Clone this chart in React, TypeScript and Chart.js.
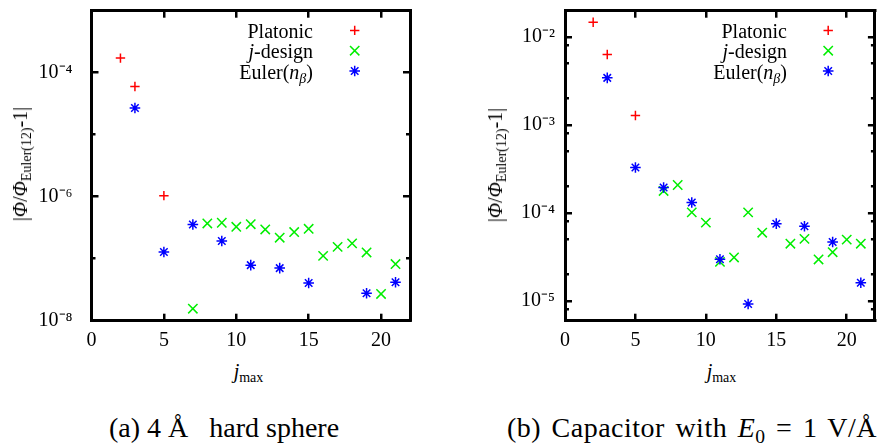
import React, { useEffect, useRef } from "react";
import { Chart, registerables } from "chart.js";

Chart.register(...registerables);

const FONT = '"Liberation Serif", "Times New Roman", serif';

// ---------- Panel (a): 4 Å hard sphere ----------
const jPlatonicA = [2, 3, 5];
const valPlatonicA = [1.72e-4, 6.0e-5, 1.04e-6];
const jDesignA = [7, 8, 9, 10, 11, 12, 13, 14, 15, 16, 17, 18, 19, 20, 21];
const valDesignA = [1.56e-8, 3.7e-7, 3.8e-7, 3.27e-7, 3.6e-7, 2.96e-7, 2.18e-7, 2.69e-7, 3.04e-7, 1.11e-7, 1.55e-7, 1.77e-7, 1.26e-7, 2.7e-8, 8.2e-8];
const jEulerA = [3, 5, 7, 9, 11, 13, 15, 19, 21];
const valEulerA = [2.7e-5, 1.28e-7, 3.56e-7, 1.93e-7, 7.87e-8, 7.05e-8, 4.06e-8, 2.77e-8, 4.16e-8];

// ---------- Panel (b): capacitor ----------
const jPlatonicB = [2, 3, 5];
const valPlatonicB = [1.48e-2, 6.36e-3, 1.29e-3];
const jDesignB = [7, 8, 9, 10, 11, 12, 13, 14, 16, 17, 18, 19, 20, 21];
const valDesignB = [1.79e-4, 2.09e-4, 1.02e-4, 7.8e-5, 2.8e-5, 3.14e-5, 1.02e-4, 6.0e-5, 4.5e-5, 5.1e-5, 2.98e-5, 3.6e-5, 5.0e-5, 4.5e-5];
const jEulerB = [3, 5, 7, 9, 11, 13, 15, 17, 19, 21];
const valEulerB = [3.45e-3, 3.3e-4, 1.96e-4, 1.32e-4, 3.0e-5, 9.3e-6, 7.6e-5, 7.1e-5, 4.7e-5, 1.62e-5];

// ---------- Axes ----------
const xMin = 0;
const xMax = 22;
const xTickValues = [0, 5, 10, 15, 20];

const yRangeA = [1e-8, 1e-3];
const yLabeledA = [1e-8, 1e-6, 1e-4];
const yMinorA = [1e-7, 1e-5];

const yRangeB = [6e-6, 2e-2];
const yLabeledB = [1e-5, 1e-4, 1e-3, 1e-2];
const yMinorB = [8e-6, 2e-5, 5e-5, 8e-5, 2e-4, 5e-4, 8e-4, 2e-3, 5e-3, 8e-3];

const seriesNames = ["Platonic", "j-design", "Euler(nβ)"];

const STYLES = [
  { pointStyle: "cross", color: "#ff0000", radius: 4.7, order: 2 },
  { pointStyle: "crossRot", color: "#00ee00", radius: 6.6, order: 1 },
  { pointStyle: "star", color: "#0000ff", radius: 5.3, order: 0 },
];

const AXIS_COLOR = "#000000";

const SUP: Record<string, string> = {
  "-": "⁻", "0": "⁰", "1": "¹", "2": "²", "3": "³", "4": "⁴",
  "5": "⁵", "6": "⁶", "7": "⁷", "8": "⁸", "9": "⁹",
};
const powLabel = (v: number) =>
  "10" + String(Math.round(Math.log10(v))).split("").map((c) => SUP[c]).join("");

function drawMarker(ctx: CanvasRenderingContext2D, style: string, x: number, y: number, r: number) {
  ctx.beginPath();
  if (style === "cross" || style === "star") {
    ctx.moveTo(x - r, y);
    ctx.lineTo(x + r, y);
    ctx.moveTo(x, y - r);
    ctx.lineTo(x, y + r);
  }
  if (style === "crossRot" || style === "star") {
    const d = r * Math.SQRT1_2;
    ctx.moveTo(x - d, y - d);
    ctx.lineTo(x + d, y + d);
    ctx.moveTo(x + d, y - d);
    ctx.lineTo(x - d, y + d);
  }
  ctx.stroke();
}

interface PanelSpec {
  series: { j: number[]; v: number[] }[];
  yRange: number[];
  yLabeled: number[];
  yMinor: number[];
  yWidth: number;
  padRight: number;
  labelPad: number;
}

const legendMarkers = {
  id: "legendMarkers",
  afterDraw(chart: any) {
    const ctx: CanvasRenderingContext2D = chart.ctx;
    const a = chart.chartArea;
    ctx.save();
    ctx.lineWidth = 1.5;
    STYLES.forEach((s, i) => {
      ctx.strokeStyle = s.color;
      drawMarker(ctx, s.pointStyle, a.left + 263.2, a.top + 19.7 + 20.3 * i, s.radius);
    });
    ctx.restore();
  },
};

const BORDER = { display: true, color: AXIS_COLOR, width: 3 };
const tickGrid = (len: number) => ({
  display: true,
  drawOnChartArea: false,
  drawTicks: true,
  tickLength: -len,
  color: AXIS_COLOR,
  tickColor: AXIS_COLOR,
  lineWidth: 2.5,
  tickWidth: 2.5,
});
const LABEL_FONT = { family: FONT, size: 20 };

function Panel({ spec, left, width }: { spec: PanelSpec; left: number; width: number }) {
  const ref = useRef<HTMLCanvasElement>(null);
  useEffect(() => {
    const setTicks = (vals: number[]) => (s: any) => {
      s.ticks = vals.map((v) => ({ value: v }));
    };
    const fixSize = (w: number | null, h: number | null) => (s: any) => {
      if (w !== null) s.width = w;
      if (h !== null) s.height = h;
      s.paddingLeft = 0;
      s.paddingRight = 0;
      s.paddingTop = 0;
      s.paddingBottom = 0;
    };
    const yBase = {
      type: "logarithmic",
      min: spec.yRange[0],
      max: spec.yRange[1],
    };
    const xBase = { type: "linear", min: xMin, max: xMax };
    const chart = new Chart(ref.current as HTMLCanvasElement, {
      type: "scatter",
      data: {
        datasets: STYLES.map((s, i) => ({
          label: seriesNames[i],
          data: spec.series[i].j.map((x, k) => ({ x, y: spec.series[i].v[k] })),
          pointStyle: s.pointStyle as any,
          pointRadius: s.radius,
          pointHoverRadius: s.radius,
          borderColor: s.color,
          backgroundColor: s.color,
          pointBorderColor: s.color,
          pointBorderWidth: 1.5,
          borderWidth: 1.5,
          showLine: false,
          order: s.order,
          xAxisID: "x",
          yAxisID: "y",
        })),
      },
      options: {
        responsive: false,
        maintainAspectRatio: false,
        animation: false,
        events: [],
        layout: { padding: { left: 0, top: 10.7, right: spec.padRight, bottom: 0 } },
        plugins: { legend: { display: false }, tooltip: { enabled: false } },
        scales: {
          x: {
            ...xBase,
            position: "bottom",
            afterBuildTicks: setTicks(xTickValues),
            afterFit: fixSize(null, 360 - 320.7),
            ticks: { autoSkip: false, maxRotation: 0, padding: 15, color: "#000", font: LABEL_FONT },
            grid: tickGrid(7),
            border: BORDER,
          },
          xTop: {
            ...xBase,
            position: "top",
            afterBuildTicks: setTicks(xTickValues),
            afterFit: fixSize(null, 0),
            ticks: { display: false },
            grid: tickGrid(7),
            border: BORDER,
          },
          y: {
            ...yBase,
            position: "left",
            weight: 1,
            afterBuildTicks: setTicks(spec.yLabeled),
            afterFit: fixSize(spec.yWidth, null),
            ticks: {
              autoSkip: false,
              padding: spec.labelPad + 7,
              color: "#000",
              font: LABEL_FONT,
              callback: (v: any) => powLabel(Number(v)),
            },
            grid: tickGrid(7),
            border: BORDER,
          },
          yMinorL: {
            ...yBase,
            position: "left",
            weight: 0,
            afterBuildTicks: setTicks(spec.yMinor),
            afterFit: fixSize(0, null),
            ticks: { display: false },
            grid: tickGrid(4),
            border: { display: false },
          },
          yRight: {
            ...yBase,
            position: "right",
            weight: 1,
            afterBuildTicks: setTicks(spec.yLabeled),
            afterFit: fixSize(0, null),
            ticks: { display: false },
            grid: tickGrid(7),
            border: BORDER,
          },
          yMinorR: {
            ...yBase,
            position: "right",
            weight: 0,
            afterBuildTicks: setTicks(spec.yMinor),
            afterFit: fixSize(0, null),
            ticks: { display: false },
            grid: tickGrid(4),
            border: { display: false },
          },
        },
      } as any,
      plugins: [legendMarkers as any],
    });
    return () => chart.destroy();
  }, []);
  return (
    <canvas
      ref={ref}
      width={width}
      height={360}
      style={{ position: "absolute", left, top: 0, width, height: 360 }}
    />
  );
}

const specA: PanelSpec = {
  series: [
    { j: jPlatonicA, v: valPlatonicA },
    { j: jDesignA, v: valDesignA },
    { j: jEulerA, v: valEulerA },
  ],
  yRange: yRangeA,
  yLabeled: yLabeledA,
  yMinor: yMinorA,
  yWidth: 91.5,
  padRight: 30,
  labelPad: 19,
};

const specB: PanelSpec = {
  series: [
    { j: jPlatonicB, v: valPlatonicB },
    { j: jDesignB, v: valDesignB },
    { j: jEulerB, v: valEulerB },
  ],
  yRange: yRangeB,
  yLabeled: yLabeledB,
  yMinor: yMinorB,
  yWidth: 125,
  padRight: 3,
  labelPad: 10,
};

const subStyle: React.CSSProperties = { fontSize: "0.7em", verticalAlign: "-0.3em", lineHeight: 0 };

const abs = (extra: React.CSSProperties): React.CSSProperties => ({
  position: "absolute",
  whiteSpace: "nowrap",
  fontSize: 20,
  lineHeight: "20px",
  ...extra,
});

function YTitle({ cx, cy }: { cx: number; cy: number }) {
  return (
    <div style={abs({ left: cx, top: cy, transform: "translate(-50%,-50%) rotate(-90deg)" })}>
      |<i>Φ</i>/<i>Φ</i>
      <sub style={subStyle}>Euler(12)</sub>-1|
    </div>
  );
}

function XTitle({ cx }: { cx: number }) {
  return (
    <div style={abs({ left: cx, top: 361, transform: "translateX(-50%)" })}>
      <i>j</i>
      <sub style={subStyle}>max</sub>
    </div>
  );
}

function Legend({ rightEdge }: { rightEdge: number }) {
  const box = (top: number): React.CSSProperties =>
    abs({ left: rightEdge - 120, width: 120, top, textAlign: "right" });
  return (
    <>
      <div style={box(21)}>{seriesNames[0]}</div>
      <div style={box(41.3)}>
        <i>j</i>-design
      </div>
      <div style={box(61.6)}>
        Euler(<i>n</i>
        <sub style={subStyle}>
          <i>β</i>
        </sub>
        )
      </div>
    </>
  );
}

export default function App() {
  return (
    <div
      style={{
        position: "absolute",
        left: 0,
        top: 0,
        width: 883,
        height: 445,
        background: "#ffffff",
        overflow: "hidden",
        fontFamily: FONT,
        color: "#000",
      }}
    >
      <Panel spec={specA} left={0} width={440} />
      <Panel spec={specB} left={440} width={443} />
      <YTitle cx={20} cy={164} />
      <YTitle cx={495} cy={165} />
      <XTitle cx={248.5} />
      <XTitle cx={721.5} />
      <Legend rightEdge={313} />
      <Legend rightEdge={787} />
      <div style={abs({ left: 224, top: 413.5, fontSize: 28, lineHeight: "28px", transform: "translateX(-50%)" })}>
        (a) 4 Å&nbsp;&nbsp; hard sphere
      </div>
      <div
        style={abs({
          left: 692,
          top: 413.5,
          fontSize: 28,
          lineHeight: "28px",
          letterSpacing: "0.5px",
          wordSpacing: "3px",
          transform: "translateX(-50%)",
        })}
      >
        (b) Capacitor with <i>E</i>
        <sub style={subStyle}>0</sub> = 1 V/Å
      </div>
    </div>
  );
}
